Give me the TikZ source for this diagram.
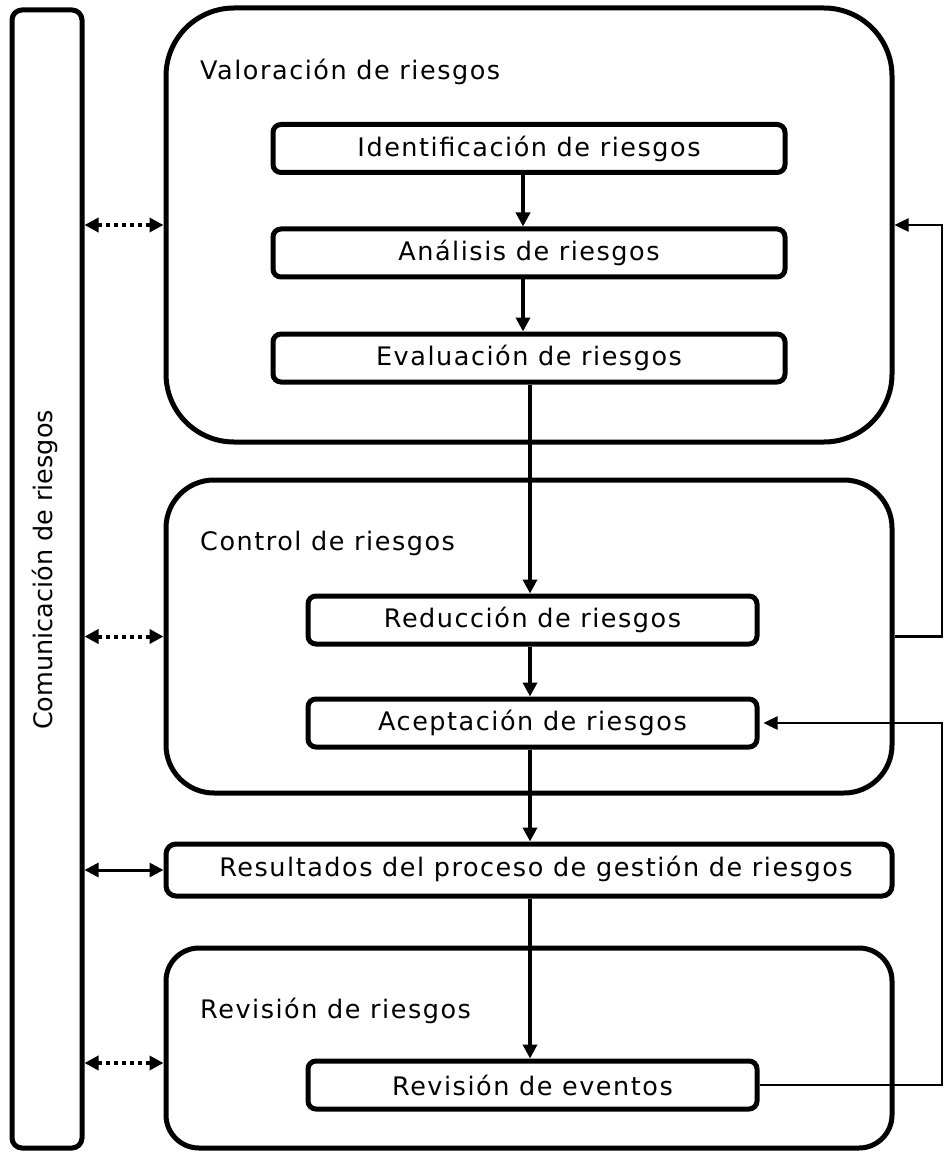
\documentclass[tikz,border=0pt]{standalone}
\usepackage{fontspec}
\setmainfont{DejaVu Sans}[LetterSpace=6]
\newfontfamily\barfont{DejaVu Sans}
\usetikzlibrary{arrows.meta}
\begin{document}
\begin{tikzpicture}[x=1pt,y=-1pt,
  txt/.style={font=\fontsize{25.5}{30}\selectfont, inner sep=0pt},
  group/.style={draw, line width=5pt, minimum width=726pt},
  stepbox/.style={draw, line width=5pt, rounded corners=8pt, minimum height=48pt,
    font=\fontsize{25.5}{30}\selectfont, inner sep=0pt},
  flow/.style={line width=4.5pt, -{Triangle[length=14pt,width=14pt]}},
  longflow/.style={line width=3.5pt, -{Triangle[length=14pt,width=14pt]}},
  back/.style={line width=2.5pt, -{Triangle[length=14pt,width=13pt]}},
  link/.style={line width=3pt, {Triangle[length=14pt,width=14pt]}-{Triangle[length=14pt,width=14pt]}},
  dotlink/.style={link, line width=4pt, dash pattern=on 4pt off 4pt}
]
\useasboundingbox (0,0) rectangle (946,1155);

% communication bar on the left
\node[draw, line width=5pt, rounded corners=10pt, minimum width=70pt, minimum height=1138pt] (bar) at (47,579) {};
\node[inner sep=0pt, rotate=90, font=\barfont\fontsize{25.5}{30}\selectfont] (barlabel) at (45,570) {Comunicación de riesgos};

% group containers
\node[group, rounded corners=68pt, minimum height=434pt] (valor) at (529,225) {};
\node[group, rounded corners=48pt, minimum height=313pt] (control) at (529,636.5) {};
\node[group, rounded corners=10pt, minimum height=52pt] (result) at (529,870) {};
\node[txt] (resultlabel) at (536,869) {Resultados del proceso de gestión de riesgos};
\node[group, rounded corners=33pt, minimum height=200pt] (revision) at (529,1048) {};

% group titles
\node[txt, anchor=base west] (valortitle) at (200,80) {Valoración de riesgos};
\node[txt, anchor=base west] (controltitle) at (200,550) {Control de riesgos};
\node[txt, anchor=base west] (revisiontitle) at (200,1018) {Revisión de riesgos};

% process steps
\node[stepbox, minimum width=512pt] (ident) at (529,148.5) {Identificación de riesgos};
\node[stepbox, minimum width=512pt] (analisis) at (529,253) {Análisis de riesgos};
\node[stepbox, minimum width=512pt] (evalua) at (529,358) {Evaluación de riesgos};
\node[stepbox, minimum width=449pt] (reduc) at (532.5,620) {Reducción de riesgos};
\node[stepbox, minimum width=449pt] (acept) at (532.5,723) {Aceptación de riesgos};
\node[stepbox, minimum width=449pt] (eventos) at (532.5,1085) {Revisión de eventos};

% main flow
\draw[flow] ([xshift=-6pt]ident.south) -- ([xshift=-6pt]analisis.north);
\draw[flow] ([xshift=-6pt]analisis.south) -- ([xshift=-6pt]evalua.north);
\draw[longflow] ([xshift=1pt]evalua.south) -- ([xshift=1pt]evalua.south |- reduc.north);
\draw[flow] ([xshift=-2.5pt]reduc.south) -- ([xshift=-2.5pt]acept.north);
\draw[flow] ([xshift=-2.5pt]acept.south) -- ([xshift=-2.5pt]acept.south |- result.north);
\draw[flow] ([xshift=-2.5pt]eventos.north |- result.south) -- ([xshift=-2.5pt]eventos.north);

% feedback loops on the right
\coordinate (rail) at (942,0);
\draw[back] (control.east) -- (rail |- control.east) -- (rail |- valor.east) -- (valor.east);
\draw[back] (eventos.east) -- (rail |- eventos.east) -- (rail |- acept.east) -- ([xshift=4pt]acept.east);

% communication links
\draw[dotlink] (bar.east |- valor.west) -- (valor.west);
\draw[dotlink] (bar.east |- control.west) -- (control.west);
\draw[link] (bar.east |- result.west) -- (result.west);
\draw[dotlink] (bar.east |- 0,1063) -- (revision.west |- 0,1063);
\end{tikzpicture}
\end{document}
